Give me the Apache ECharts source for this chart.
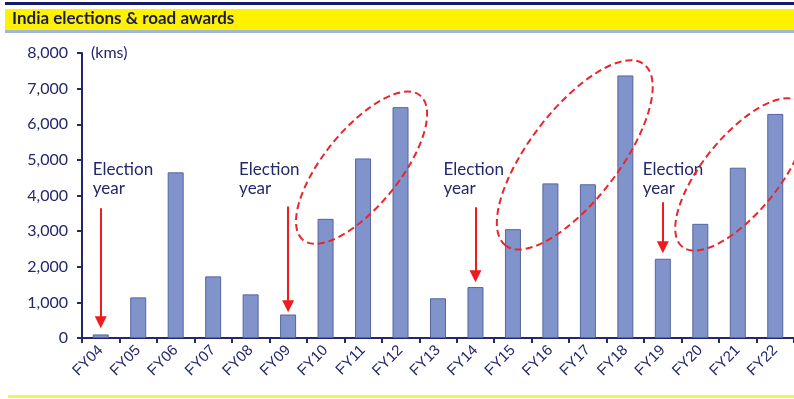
<!DOCTYPE html>
<html>
<head>
<meta charset="utf-8">
<title>India elections &amp; road awards</title>
<script src="https://cdn.jsdelivr.net/npm/echarts@6/dist/echarts.min.js"></script>
<style>
  html, body { margin: 0; padding: 0; background: #ffffff; }
  #chart { width: 794px; height: 399px; }
</style>
</head>
<body>
<div id="chart"></div>
<script>
// Fiscal years on the category axis
const categories = ['FY04', 'FY05', 'FY06', 'FY07', 'FY08', 'FY09', 'FY10', 'FY11', 'FY12', 'FY13',
                    'FY14', 'FY15', 'FY16', 'FY17', 'FY18', 'FY19', 'FY20', 'FY21', 'FY22'];
// Road projects awarded each year (kms)
const roadAwardsKm = [100, 1140, 4650, 1730, 1225, 660, 3345, 5040, 6480, 1115,
                      1430, 3055, 4340, 4315, 7370, 2225, 3205, 4780, 6290];
// Value axis range
const yMin = 0, yMax = 8000, yStep = 1000;

// General election years, with the arrow span (start value, arrow-head value) in kms
const electionYears = ['FY04', 'FY09', 'FY14', 'FY19'];
const arrowFrom = [3640, 3690, 3670, 3810];
const arrowTo = [440, 890, 1730, 2545];
const noteValue = [4450, 4450, 4470, 4450];

// Post-election surges circled: centre as (category index, kms)
const surgeCentreIndex = [6.96, 12.65, 17.08];
const surgeCentreValue = [4780, 5140, 4590];

const NAVY = '#23276b';
const RED = '#ef1c1f';
const FONT = 'Lato, "Open Sans", sans-serif';
const TICK_FONT = '"Liberation Sans", Arial, sans-serif';

// Pixel offsets of the "Election year" notes from their arrows
const noteShift = [-8, -49, -32, -20];

const chart = echarts.init(document.getElementById('chart'), null, { renderer: 'canvas' });

const option = {
  animation: false,
  backgroundColor: '#ffffff',
  textStyle: { fontFamily: FONT },
  grid: { left: 82, top: 53, width: 714, height: 285, containLabel: false },
  xAxis: {
    type: 'category',
    data: categories,
    boundaryGap: true,
    axisLine: { lineStyle: { color: NAVY, width: 2 } },
    axisTick: { show: true, alignWithLabel: false, length: 5, lineStyle: { color: NAVY, width: 2 } },
    axisLabel: { rotate: 45, color: NAVY, fontSize: 15, fontFamily: TICK_FONT, margin: 10, interval: 0 }
  },
  yAxis: {
    type: 'value',
    min: yMin,
    max: yMax,
    interval: yStep,
    name: '(kms)',
    nameLocation: 'end',
    nameGap: 0,
    nameTextStyle: { color: NAVY, fontSize: 16, fontFamily: FONT, align: 'left', verticalAlign: 'middle', padding: [0, 0, 0, 9] },
    axisLine: { show: true, lineStyle: { color: NAVY, width: 2 } },
    axisTick: { show: true, length: 5, lineStyle: { color: NAVY, width: 2 } },
    splitLine: { show: false },
    axisLabel: {
      color: NAVY, fontSize: 16, fontFamily: FONT, margin: 14,
      formatter: v => v.toLocaleString('en-US')
    }
  },
  series: [{
    type: 'bar',
    data: roadAwardsKm,
    barWidth: 16,
    itemStyle: { color: '#8193cb', borderColor: '#56659f', borderWidth: 1 },
    markLine: {
      silent: true,
      symbol: ['none', 'triangle'],
      symbolSize: [12, 12],
      lineStyle: { color: RED, width: 2, type: 'solid' },
      itemStyle: { color: RED },
      label: { show: false },
      emphasis: { disabled: true },
      data: electionYears.map((fy, i) => [
        { coord: [fy, arrowFrom[i]] },
        { coord: [fy, arrowTo[i]] }
      ])
    },
    markPoint: {
      silent: true,
      symbol: 'circle',
      symbolSize: 1,
      itemStyle: { color: 'rgba(0,0,0,0)' },
      data: electionYears.map((fy, i) => ({
        coord: [fy, noteValue[i]],
        label: {
          show: true,
          position: 'inside',
          align: 'left',
          verticalAlign: 'middle',
          offset: [noteShift[i], 0],
          formatter: 'Election\nyear',
          color: NAVY,
          fontSize: 17,
          lineHeight: 19,
          fontFamily: FONT
        }
      }))
    }
  }],
  graphic: [
    // header rules and banner
    { type: 'rect', shape: { x: 5, y: 2, width: 789, height: 3 }, style: { fill: '#161a6a' }, silent: true },
    { type: 'rect', shape: { x: 5, y: 9, width: 789, height: 21 }, style: { fill: '#fff200' }, silent: true },
    { type: 'rect', shape: { x: 5, y: 30, width: 789, height: 3 }, style: { fill: '#a5b6db' }, silent: true },
    {
      type: 'text', left: 12, top: 10, silent: true,
      style: { text: 'India elections & road awards', fill: '#1b1c55', font: 'bold 17px ' + FONT }
    },
    // footer rule
    { type: 'rect', shape: { x: 8, y: 395, width: 786, height: 3 }, style: { fill: '#f4f058' }, silent: true }
  ]
};

chart.setOption(option);

// Dashed rings around the post-election surges, placed through the axes
function pixelAt(idx, value) {
  const lo = Math.floor(idx), hi = Math.ceil(idx);
  const a = chart.convertToPixel({ gridIndex: 0 }, [lo, value]);
  const b = chart.convertToPixel({ gridIndex: 0 }, [hi, value]);
  const t = idx - lo;
  return [a[0] + (b[0] - a[0]) * t, a[1]];
}
const ringSize = [[93, 38], [114, 45], [93, 38]];
const ringTilt = [51, 52.6, 51];
const rings = surgeCentreIndex.map((idx, i) => {
  const p = pixelAt(idx, surgeCentreValue[i]);
  return {
    type: 'ellipse',
    x: p[0], y: p[1],
    rotation: ringTilt[i] * Math.PI / 180,
    shape: { cx: 0, cy: 0, rx: ringSize[i][0], ry: ringSize[i][1] },
    style: { fill: null, stroke: '#e8262c', lineWidth: 2, lineDash: [7, 4] },
    silent: true,
    z: 100
  };
});
chart.setOption({ graphic: option.graphic.concat(rings) });
</script>
</body>
</html>
